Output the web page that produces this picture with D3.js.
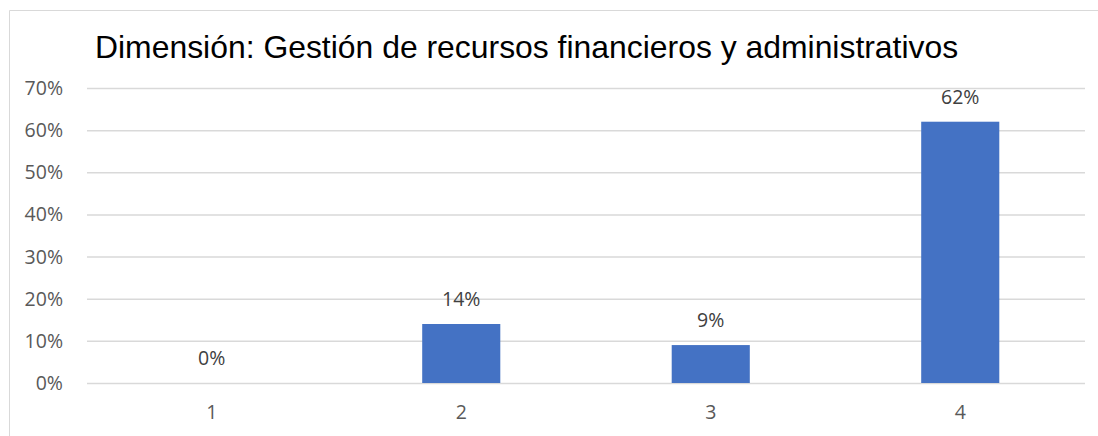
<!DOCTYPE html>
<html><head><meta charset="utf-8">
<script src="https://cdn.jsdelivr.net/npm/d3@7"></script>
<style>body{margin:0;background:#fff;}svg{display:block;}</style>
</head><body>
<svg id="c" width="1098" height="436"></svg>
<script>
const categories = ["1","2","3","4"];
const values = [0, 0.14, 0.09, 0.62];
const yTicks = [0,0.1,0.2,0.3,0.4,0.5,0.6,0.7];
const title = "Dimensión: Gestión de recursos financieros y administrativos";

const svg = d3.select("#c");
const W = 1098, H = 436;
const m = {left:87, right:1085, top:88, bottom:383};

svg.append("path").attr("d",`M9.5,${H}V10.5H${W}`).attr("fill","none").attr("stroke","#d9d9d9").attr("stroke-width",1);

const x = d3.scaleBand().domain(categories).range([m.left,m.right]).paddingInner(0.687).paddingOuter(0.3435);
const y = d3.scaleLinear().domain([0,0.7]).range([m.bottom,m.top]);
const fmt = d3.format(".0%");
const tickFont = "'Open Sans', sans-serif";

const yAxis = svg.append("g").attr("transform",`translate(${m.left},0)`)
  .call(d3.axisLeft(y).tickValues(yTicks).tickFormat(fmt).tickSize(-(m.right-m.left)).tickPadding(24));
yAxis.select(".domain").remove();
yAxis.selectAll(".tick line").attr("stroke","#d9d9d9").attr("stroke-width",1.5);
yAxis.selectAll(".tick text").attr("fill","#595959").attr("font-family",tickFont).attr("font-size",19.5).attr("dy","0.33em");

const xAxis = svg.append("g").attr("transform",`translate(0,${m.bottom})`)
  .call(d3.axisBottom(x).tickSize(0).tickPadding(22));
xAxis.select(".domain").remove();
xAxis.selectAll(".tick text").attr("fill","#595959").attr("font-family",tickFont).attr("font-size",19.5);

svg.append("g").selectAll("rect").data(values).join("rect")
  .attr("x",(d,i)=>x(categories[i])).attr("width",x.bandwidth())
  .attr("y",d=>y(d)).attr("height",d=>y(0)-y(d)).attr("fill","#4472c4");

svg.append("g").selectAll("text").data(values).join("text")
  .attr("x",(d,i)=>x(categories[i])+x.bandwidth()/2).attr("y",d=>y(d)-18)
  .attr("text-anchor","middle").attr("fill","#404040").attr("font-family",tickFont).attr("font-size",19.5)
  .text(d=>fmt(d));

svg.append("text").attr("x",95).attr("y",58).attr("font-family","'Liberation Sans', Arial, sans-serif")
  .attr("font-size",31.9).attr("fill","#000").text(title);
</script>
</body></html>
